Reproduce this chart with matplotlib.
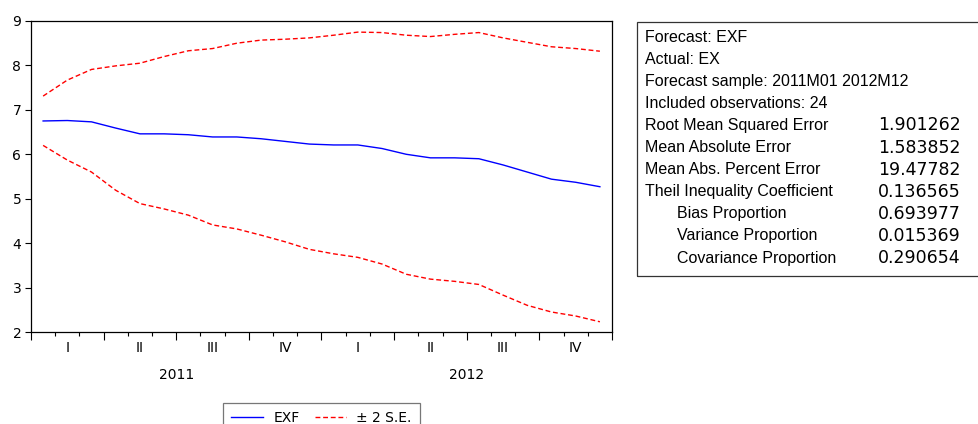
import numpy as np
import matplotlib.pyplot as plt
from matplotlib.lines import Line2D
from matplotlib.patches import Rectangle

plt.rcParams['font.family'] = ['DejaVu Sans']

# Forecast (EXF) and +/- 2 S.E. bands, monthly 2011M01 - 2012M12
exf = [6.75, 6.76, 6.73, 6.59, 6.46, 6.46, 6.44, 6.39, 6.39, 6.35, 6.29, 6.23,
       6.21, 6.21, 6.13, 6.00, 5.92, 5.92, 5.90, 5.76, 5.60, 5.44, 5.37, 5.27]
upper = [7.31, 7.67, 7.91, 7.99, 8.05, 8.20, 8.33, 8.38, 8.50, 8.57, 8.59, 8.62,
         8.68, 8.75, 8.74, 8.68, 8.65, 8.70, 8.74, 8.62, 8.52, 8.42, 8.38, 8.32]
lower = [6.20, 5.87, 5.60, 5.19, 4.89, 4.77, 4.63, 4.41, 4.32, 4.18, 4.03, 3.86,
         3.76, 3.68, 3.53, 3.30, 3.19, 3.14, 3.07, 2.83, 2.60, 2.45, 2.36, 2.23]
quarters = ["I", "II", "III", "IV"]
years = ["2011", "2012"]

# Stats table
stat_labels = ["Forecast: EXF", "Actual: EX", "Forecast sample: 2011M01 2012M12",
               "Included observations: 24", "Root Mean Squared Error",
               "Mean Absolute Error", "Mean Abs. Percent Error",
               "Theil Inequality Coefficient", "Bias Proportion",
               "Variance Proportion", "Covariance Proportion"]
stat_values = ["", "", "", "", "1.901262", "1.583852", "19.47782", "0.136565",
               "0.693977", "0.015369", "0.290654"]

W, H = 979, 424
fig = plt.figure(figsize=(W / 100, H / 100), dpi=100)
ax = fig.add_axes([31 / W, 1 - 332 / H, (612 - 31) / W, (332 - 21) / H])

x = np.arange(len(exf)) + 0.5
dash = (0, (3.5, 2))
ax.plot(x, exf, color="#0000ff", lw=1)
ax.plot(x, upper, color="#ff0000", lw=1, linestyle=dash)
ax.plot(x, lower, color="#ff0000", lw=1, linestyle=dash)

ax.set_xlim(0, 24)
ax.set_ylim(2, 9)
ax.set_yticks(range(2, 10))
ax.tick_params(axis="y", labelsize=10, length=4, width=0.8, direction="out", pad=3)
ax.set_xticks(np.arange(0, 25, 3))
ax.set_xticks(np.arange(0, 25, 1), minor=True)
ax.set_xticklabels([])
ax.tick_params(axis="x", which="major", length=6, width=0.8)
ax.tick_params(axis="x", which="minor", length=3, width=0.8)
for sp in ax.spines.values():
    sp.set_linewidth(0.9)

# Quarter and year labels under the axis
tr = ax.get_xaxis_transform()
for q in range(8):
    ax.text(q * 3 + 1.5, -0.053, quarters[q % 4], transform=tr, ha="center",
            va="center", fontsize=10)
for i, yr in enumerate(years):
    ax.text(i * 12 + 6, -0.137, yr, transform=tr, ha="center", va="center",
            fontsize=10)

# Legend, cut off at the bottom like the reference
handles = [Line2D([], [], color="#0000ff", lw=1),
           Line2D([], [], color="#ff0000", lw=1, linestyle=dash)]
leg = fig.legend(handles, ["EXF", "\u00b1 2 S.E."], ncol=2, loc="upper left",
                 bbox_to_anchor=(223 / W, 1 - 403 / H), fontsize=10,
                 frameon=True, fancybox=False, handlelength=2.3,
                 columnspacing=1.08, handletextpad=0.72, borderpad=0.6,
                 borderaxespad=0)
leg.get_frame().set_edgecolor("#555555")
leg.get_frame().set_linewidth(0.9)

# Stats box on the right
fig.patches.append(Rectangle((637 / W, 1 - 276 / H), 400 / W, (276 - 22) / H,
                             transform=fig.transFigure, fill=False,
                             edgecolor="#333333", lw=0.9))
for i, (lab, val) in enumerate(zip(stat_labels, stat_values)):
    yy = 1 - (37 + i * 22.1) / H
    xx = 677 if i >= 8 else 645
    fig.text(xx / W, yy, lab, fontsize=11.5, va="center", ha="left",
             family="Liberation Sans")
    if val:
        fig.text(878 / W, yy, val, fontsize=12.5, va="center", ha="left")

fig.savefig("out.png", dpi=100)
